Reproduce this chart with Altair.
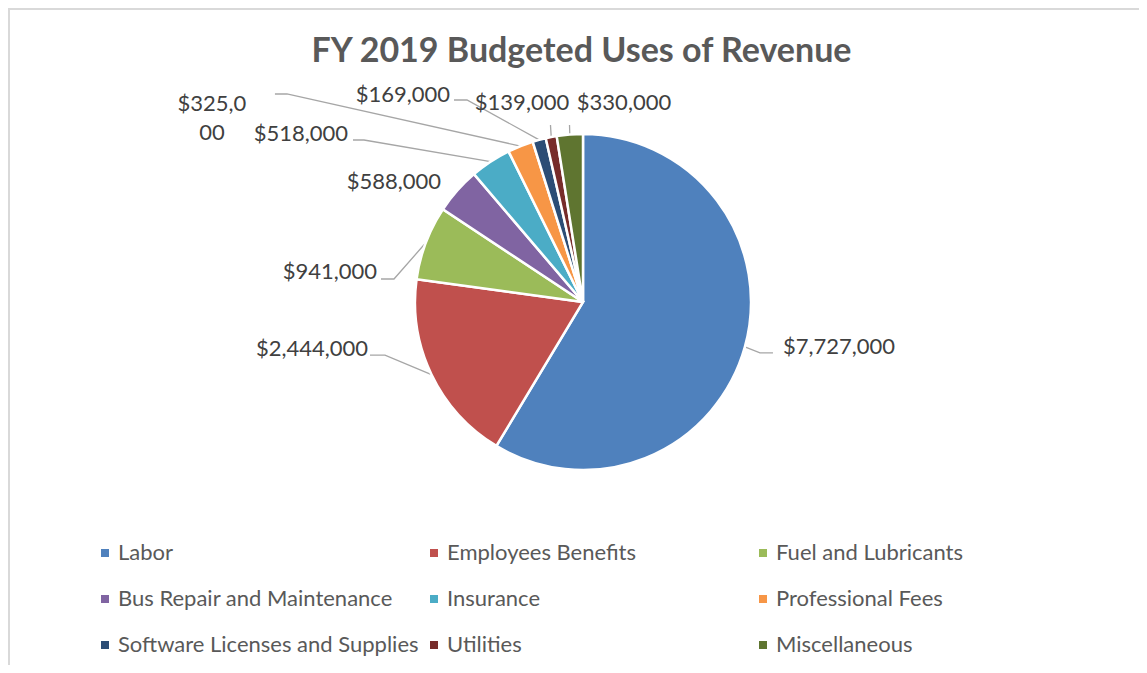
import math
import altair as alt
import pandas as pd

# ---------------- data ----------------
categories = ["Labor", "Employees Benefits", "Fuel and Lubricants",
              "Bus Repair and Maintenance", "Insurance", "Professional Fees",
              "Software Licenses and Supplies", "Utilities", "Miscellaneous"]
amounts = [7727000, 2444000, 941000, 588000, 518000, 325000, 169000, 139000, 330000]
colors = ["#4F81BD", "#C0504D", "#9BBB59", "#8064A2", "#4BACC6",
          "#F79646", "#2C4D75", "#772C2A", "#5F7530"]
title_text = "FY 2019 Budgeted Uses of Revenue"

# ---------------- layout ----------------
W, H = 1131, 657          # drawing area (page minus 8px margins)
CX, CY, R = 575, 294, 168 # pie centre and radius
FONT = "Lato"

# label placement (Excel-like de-overlapping), offsets from the slice edge point
# (text dx, text dy, align, leader-end dx, leader-end dy, horizontal elbow)
label_layout = {
    "Labor":                          (38.1, 0.0, "left", 28.1, 6.0, -13),
    "Employees Benefits":             (-63.5, -25.5, "right", -61.5, -19.5, 15),
    "Fuel and Lubricants":            (-48.8, 29.2, "right", -44.8, 36.2, 13),
    "Bus Repair and Maintenance":     (-16.2, -8.6, "right", None, None, 0),
    "Insurance":                      (-142.6, -27.7, "right", -137.6, -21.7, 11),
    "Professional Fees":              (-308.5, -41.6, "center", -245.5, -52.1, 12),
    "Software Licenses and Supplies": (-89.2, -44.8, "right", -85.2, -39.8, 13),
    "Utilities":                      (-29.2, -34.0, "center", -0.7, -12.0, 0),
    "Miscellaneous":                  (54.2, -31.5, "center", -0.3, -9.5, 0),
}
label_wrap = {"Professional Fees": 6}

# ---------------- derived tables ----------------
total = float(sum(amounts))
pie_rows, label_rows, leader_rows = [], [], []
cum = 0.0
for i, (cat, v) in enumerate(zip(categories, amounts)):
    pie_rows.append({"category": cat, "amount": v, "idx": i})
    mid = (cum + v / 2.0) / total * 2 * math.pi
    cum += v
    ex = CX + R * math.sin(mid)
    ey = CY - R * math.cos(mid)
    tdx, tdy, align, ldx, ldy, elbow = label_layout[cat]
    txt = "${:,}".format(v)
    if cat in label_wrap:
        k = label_wrap[cat]
        txt = txt[:k] + "\n" + txt[k:]
    label_rows.append({"category": cat, "label": txt, "x": ex + tdx, "y": ey + tdy, "align": align})
    if ldx is not None:
        endx, endy = ex + ldx, ey + ldy
        pts = [(endx, endy), (endx + elbow, endy), (ex, ey)]
        for j, (px, py) in enumerate(pts):
            leader_rows.append({"category": cat, "seq": j, "x": px, "y": py})

pie_df = pd.DataFrame(pie_rows)
label_df = pd.DataFrame(label_rows)
leader_df = pd.DataFrame(leader_rows)

xs = alt.Scale(domain=[0, W], nice=False, zero=False)
ys = alt.Scale(domain=[0, H], nice=False, zero=False, reverse=True)

pie = alt.Chart(pie_df).mark_arc(outerRadius=R, stroke="white", strokeWidth=2.5).encode(
    theta=alt.Theta("amount:Q", stack=True),
    order=alt.Order("idx:Q"),
    color=alt.Color("category:N",
                    scale=alt.Scale(domain=categories, range=colors),
                    sort=categories,
                    legend=alt.Legend(orient="none", legendX=86, legendY=534,
                                      direction="horizontal", columns=3,
                                      gridAlign="all", columnPadding=4, rowPadding=24,
                                      symbolType="square", symbolSize=64,
                                      symbolStrokeWidth=0, labelFont=FONT,
                                      labelFontSize=22, labelColor="#595959",
                                      labelOffset=2, labelLimit=0, title=None,
                                      padding=0)),
    x=alt.value(CX), y=alt.value(CY),
)

leaders = alt.Chart(leader_df).mark_line(color="#A6A6A6", strokeWidth=1.3).encode(
    x=alt.X("x:Q", scale=xs, axis=None),
    y=alt.Y("y:Q", scale=ys, axis=None),
    detail="category:N",
    order="seq:Q",
)

def label_layer(al):
    return alt.Chart(label_df).transform_filter(
        alt.datum.align == al
    ).mark_text(align=al, baseline="middle", font=FONT, fontSize=22,
                color="#404040", lineBreak="\n", lineHeight=29).encode(
        x=alt.X("x:Q", scale=xs, axis=None),
        y=alt.Y("y:Q", scale=ys, axis=None),
        text="label:N",
    )

border_top = alt.Chart(pie_df).mark_rule(color="#D9D9D9", strokeWidth=2).encode(
    x=alt.value(0), x2=alt.value(W), y=alt.value(1))
border_left = alt.Chart(pie_df).mark_rule(color="#D9D9D9", strokeWidth=2).encode(
    x=alt.value(1), y=alt.value(0), y2=alt.value(H))

chart = alt.layer(
    border_top, border_left, leaders, pie,
    label_layer("left"), label_layer("right"), label_layer("center"),
).properties(
    width=W, height=H,
    padding=0,
    autosize=alt.AutoSizeParams(type="none"),
    title=alt.TitleParams(title_text, anchor="middle", frame="group", orient="top",
                          offset=-62, dx=8, font=FONT, fontSize=34,
                          fontWeight="bold", color="#595959"),
).configure_view(stroke=None)

chart.save("out.html", embed_options={"renderer": "svg", "actions": False})
